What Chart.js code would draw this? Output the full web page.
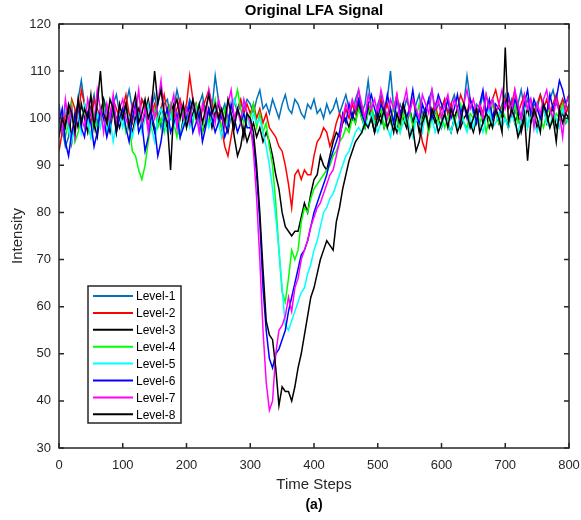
<!DOCTYPE html>
<html>
<head>
<meta charset="utf-8">
<title>Original LFA Signal</title>
<script src="https://cdn.jsdelivr.net/npm/chart.js@4.4.1/dist/chart.umd.min.js"></script>
<style>
  html, body { margin: 0; padding: 0; background: #fff; }
  #wrap { width: 581px; height: 520px; }
</style>
</head>
<body>
<div id="wrap"><canvas id="lfaChart" width="581" height="520"></canvas></div>
<script>
// sample times, every 5 steps from 0 to 800
var timeSteps = [];
for (var t = 0; t <= 800; t += 5) timeSteps.push(t);

var seriesNames = ["Level-1", "Level-2", "Level-3", "Level-4", "Level-5", "Level-6", "Level-7", "Level-8"];
var seriesColors = ["#0072BD", "#FF0000", "#000000", "#00FF00", "#00FFFF", "#0000FF", "#FF00FF", "#000000"];

var xTicks = [0, 100, 200, 300, 400, 500, 600, 700, 800];
var yTicks = [30, 40, 50, 60, 70, 80, 90, 100, 110, 120];

var level1 = [
  103,98,94,96,101,99,104,108,103,100,102,105,99,101,104,102,98,103,105,101,
  100,103,106,102,99,101,104,103,100,102,105,101,98,103,104,100,102,106,103,99,
  101,104,102,100,103,105,101,99,102,109,104,101,103,100,102,104,101,103,102,104,
  103,101,104,106,102,103,101,104,102,100,103,105,102,101,104,103,101,100,103,102,
  104,101,102,100,103,101,102,104,101,103,105,102,100,104,106,101,103,108,102,100,
  103,105,101,104,110,102,100,103,101,104,102,99,103,105,101,102,104,106,101,103,
  102,104,101,103,105,102,100,103,109,104,101,103,102,105,101,103,104,102,100,103,
  105,102,104,101,103,106,102,104,101,103,102,105,103,101,104,106,103,102,104,103,101
];
var level2 = [
  93,97,101,99,104,102,100,106,103,101,99,104,102,100,103,97,101,104,102,100,
  102,105,101,99,103,100,104,102,98,101,103,100,102,105,101,103,100,102,104,101,
  103,109,104,101,99,102,104,106,103,100,101,98,94,92,96,100,102,104,101,103,
  101,103,100,102,99,101,98,97,96,94,93,90,86,81,88,89,87,89,88,88,
  92,95,96,98,97,94,96,99,101,99,102,100,103,101,104,102,100,103,101,99,
  102,104,101,103,100,102,105,101,103,100,102,104,101,99,95,93,98,101,103,100,
  102,104,101,103,100,102,105,103,101,104,102,100,103,101,105,102,104,106,103,101,
  104,102,103,106,101,103,105,102,104,101,103,105,102,104,101,103,105,102,104,101,103
];
var level3 = [
  100,97,99,102,95,101,98,103,100,97,102,99,96,101,104,99,97,102,100,98,
  101,103,99,97,100,102,98,101,104,100,97,99,102,100,98,101,103,99,96,100,
  102,99,101,103,100,97,99,102,98,101,103,100,99,97,101,96,92,94,98,95,
  97,99,96,98,95,97,95,92,88,85,80,77,76,75,76,76,79,82,80,84,
  87,88,92,90,89,92,95,97,96,99,100,98,101,99,103,100,98,102,100,97,
  99,101,98,100,102,99,97,101,100,98,102,99,101,97,100,102,98,101,99,100,
  98,101,99,97,100,102,98,100,101,99,97,100,102,99,101,98,100,102,99,101,
  100,98,102,99,101,97,100,102,99,101,98,100,103,99,101,102,98,100,101,99,100
];
var level4 = [
  98,101,96,99,103,95,97,100,102,99,96,101,98,100,103,97,99,102,98,100,
  101,97,99,93,92,89,87,90,95,99,102,98,100,97,101,103,99,96,100,102,
  98,101,99,103,100,97,102,99,101,104,100,98,102,99,101,103,106,102,99,101,
  100,103,98,101,97,99,94,90,82,72,63,61,66,72,70,72,78,81,80,83,
  85,86,87,88,89,90,92,93,95,96,98,97,100,99,102,100,98,101,103,99,
  100,102,98,101,99,103,100,97,101,99,102,98,100,103,99,101,97,100,102,99,
  101,98,100,102,99,101,103,99,98,101,100,102,99,101,97,100,103,101,99,102,
  100,98,101,103,99,100,102,98,101,99,103,100,98,101,102,99,101,100,103,99,101
];
var level5 = [
  97,100,102,98,95,99,101,97,103,100,96,99,101,98,102,97,100,95,99,101,
  98,102,100,96,99,101,97,100,103,98,95,100,102,99,97,101,98,100,96,99,
  101,98,100,102,97,99,101,98,100,103,99,96,100,98,101,104,102,99,101,100,
  98,101,99,100,97,94,90,85,79,72,64,56,55,57,59,61,63,64,67,69,
  72,74,77,80,81,83,84,86,88,90,92,93,95,97,98,97,100,98,101,99,
  97,99,101,98,96,100,98,97,99,101,98,96,100,99,97,101,98,100,97,99,
  98,101,99,97,100,98,102,99,97,100,98,101,99,97,100,102,98,99,101,98,
  100,98,101,99,97,100,102,98,101,99,97,100,102,99,98,101,100,98,102,100,99
];
var level6 = [
  99,102,95,92,97,100,103,98,96,101,99,94,97,102,100,96,99,103,97,100,
  102,98,95,100,103,97,99,93,96,101,98,92,95,100,102,97,99,101,96,98,
  100,103,97,99,101,95,98,102,100,97,99,101,96,98,103,100,97,99,101,98,
  98,95,88,78,64,55,49,47,50,51,53,55,59,62,65,68,71,72,74,77,
  80,82,84,86,88,91,93,95,97,101,99,103,100,102,104,101,99,103,105,102,
  100,103,101,105,102,99,104,101,103,100,102,106,101,99,103,101,104,100,102,105,
  103,101,104,100,102,105,101,103,100,104,102,99,103,106,101,104,100,103,102,101,
  103,105,101,104,102,100,103,106,101,104,102,100,103,101,105,102,104,108,106,103,105
];
var level7 = [
  101,97,104,99,102,96,103,100,98,104,101,99,106,102,97,103,100,105,99,102,
  104,100,98,103,101,106,99,102,97,104,100,103,108,101,99,102,105,98,103,100,
  102,99,104,101,97,103,100,106,102,99,104,101,98,103,106,100,102,99,104,101,
  99,93,83,70,55,44,38,40,50,55,56,58,62,59,64,66,70,72,74,77,
  79,81,82,84,86,88,89,92,95,100,103,101,104,102,106,103,100,105,102,104,
  101,106,103,100,104,102,105,99,103,106,101,104,102,100,105,103,101,106,102,104,
  100,103,105,101,104,102,99,103,106,102,104,101,103,100,105,102,104,101,103,106,
  102,104,101,106,103,100,105,102,104,98,103,101,104,106,102,100,104,101,96,103,105
];
var level8 = [
  96,100,98,103,101,97,104,99,102,100,105,98,103,110,101,99,104,102,97,103,
  100,103,98,102,105,99,101,104,100,102,110,103,106,101,99,89,102,104,100,103,
  98,101,104,100,103,99,102,105,101,103,100,102,99,104,101,98,102,100,96,101,
  100,97,90,80,68,57,54,53,47,39,43,42,42,40,43,47,50,54,58,62,
  64,67,70,72,74,73,72,78,81,85,88,91,93,95,96,97,99,98,100,97,
  101,99,102,98,100,97,101,99,103,100,96,98,93,95,99,101,98,102,100,97,
  99,101,98,102,100,97,99,103,101,98,100,102,97,99,101,100,98,102,100,97,
  115,99,102,100,96,98,101,91,99,102,100,97,103,101,98,100,95,102,99,101,100
];

var allSeries = [level1, level2, level3, level4, level5, level6, level7, level8];

var FONT = "'Liberation Sans', Arial, Helvetica, sans-serif";
var AXIS_COLOR = "#262626";

// box, inward ticks, title, "(a)" and the legend, MATLAB style
var matlabFrame = {
    id: 'matlabFrame',
    afterDatasetsDraw: function(chart) {
        var ctx = chart.ctx;
        var a = chart.chartArea;
        var xs = chart.scales.x, ys = chart.scales.y;
        ctx.save();
        ctx.strokeStyle = AXIS_COLOR;
        ctx.lineWidth = 1.5;
        ctx.strokeRect(a.left, a.top, a.right - a.left, a.bottom - a.top);
        ctx.beginPath();
        xTicks.forEach(function(v) {
            var px = xs.getPixelForValue(v);
            ctx.moveTo(px, a.bottom); ctx.lineTo(px, a.bottom - 5);
            ctx.moveTo(px, a.top); ctx.lineTo(px, a.top + 5);
        });
        yTicks.forEach(function(v) {
            var py = ys.getPixelForValue(v);
            ctx.moveTo(a.left, py); ctx.lineTo(a.left + 5, py);
            ctx.moveTo(a.right, py); ctx.lineTo(a.right - 5, py);
        });
        ctx.stroke();

        // title and panel tag
        var cx = (a.left + a.right) / 2;
        ctx.fillStyle = "#000";
        ctx.textAlign = 'center';
        ctx.textBaseline = 'middle';
        ctx.font = "bold 15px " + FONT;
        ctx.fillText("Original LFA Signal", cx, a.top - 13);
        ctx.font = "bold 14px " + FONT;
        ctx.fillText("(a)", cx, a.bottom + 57);

        // legend
        var lx = a.left + 29, lt = a.bottom - 162, lw = 93, lh = 137;
        ctx.fillStyle = "#fff";
        ctx.fillRect(lx, lt, lw, lh);
        ctx.strokeStyle = AXIS_COLOR;
        ctx.lineWidth = 1.5;
        ctx.strokeRect(lx, lt, lw, lh);
        ctx.font = "12px " + FONT;
        ctx.textAlign = 'left';
        seriesNames.forEach(function(name, i) {
            var ry = lt + 10 + i * 16.9;
            ctx.strokeStyle = seriesColors[i];
            ctx.lineWidth = 2;
            ctx.beginPath();
            ctx.moveTo(lx + 5, ry); ctx.lineTo(lx + 45, ry);
            ctx.stroke();
            ctx.fillStyle = "#000";
            ctx.fillText(name, lx + 48, ry + 1);
        });
        ctx.restore();
    }
};

var datasets = allSeries.map(function(arr, i) {
    return {
        label: seriesNames[i],
        data: arr,
        borderColor: seriesColors[i],
        backgroundColor: seriesColors[i],
        borderWidth: 1.5,
        pointRadius: 0,
        tension: 0,
        fill: false,
        order: seriesNames.length - i
    };
});

var myChart = new Chart(document.getElementById("lfaChart"), {
    type: 'line',
    data: { labels: timeSteps, datasets: datasets },
    plugins: [matlabFrame],
    options: {
        responsive: false,
        animation: false,
        layout: { padding: { top: 24, right: 0, bottom: 26, left: 0 } },
        plugins: {
            legend: { display: false },
            tooltip: { enabled: false },
            title: { display: false }
        },
        scales: {
            x: {
                type: 'linear',
                min: 0, max: 800,
                grid: { display: false },
                border: { display: false },
                afterBuildTicks: function(scale) {
                    scale.ticks = xTicks.map(function(v) { return { value: v }; });
                },
                afterFit: function(scale) {
                    scale.height = 46;
                    scale.paddingRight = 12;
                },
                ticks: { color: AXIS_COLOR, padding: 2, maxRotation: 0, font: { family: FONT, size: 13 } },
                title: { display: true, text: 'Time Steps', color: AXIS_COLOR, padding: { top: 0, bottom: 0 }, font: { family: FONT, size: 15 } }
            },
            y: {
                min: 30, max: 120,
                grid: { display: false },
                border: { display: false },
                afterBuildTicks: function(scale) {
                    scale.ticks = yTicks.map(function(v) { return { value: v }; });
                },
                afterFit: function(scale) { scale.width = 59; },
                ticks: { color: AXIS_COLOR, padding: 0, font: { family: FONT, size: 13 } },
                title: { display: true, text: 'Intensity', color: AXIS_COLOR, padding: { top: 9, bottom: 0 }, font: { family: FONT, size: 15 } }
            }
        }
    }
});
</script>
</body>
</html>
